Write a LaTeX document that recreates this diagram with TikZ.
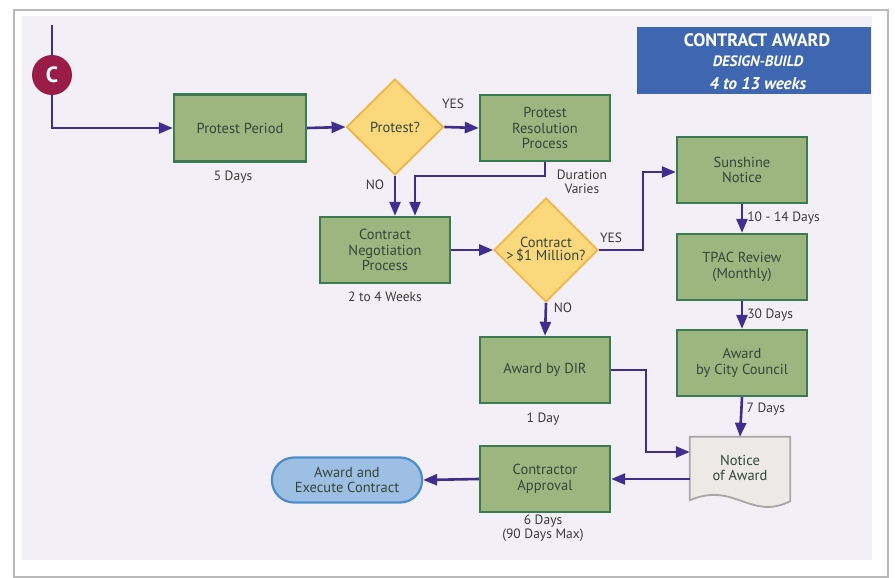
\documentclass[tikz,border=0pt]{standalone}
\usepackage{fontspec}
\setmainfont{PT Sans}
\usetikzlibrary{arrows.meta,shapes.geometric,calc}
\definecolor{boxfill}{HTML}{9DB57F}
\definecolor{boxborder}{HTML}{3C7A52}
\definecolor{boxtext}{HTML}{34463A}
\definecolor{diafill}{HTML}{FCD87C}
\definecolor{diaborder}{HTML}{F2B443}
\definecolor{connc}{HTML}{3F2E8E}
\definecolor{titlefill}{HTML}{3F67B1}
\definecolor{cfill}{HTML}{9A1D48}
\definecolor{pillfill}{HTML}{9DBFE3}
\definecolor{pillborder}{HTML}{4C8DC9}
\definecolor{docfill}{HTML}{ECE9E6}
\definecolor{docborder}{HTML}{A8A6A6}
\definecolor{bgpanel}{HTML}{F3EFF6}
\definecolor{labc}{HTML}{3A3A3A}
\tikzset{
  box/.style={draw=boxborder, fill=boxfill, line width=2.4pt, minimum width=130pt,
    minimum height=66pt, align=center, text=boxtext, font=\fontsize{14.5}{15.5}\selectfont, inner sep=2pt},
  dia/.style={diamond, aspect=1, draw=diaborder, fill=diafill, line width=1.8pt,
    minimum width=97pt, minimum height=96pt, align=center, text=boxtext,
    font=\fontsize{14.5}{14}\selectfont, inner sep=0pt},
  conn/.style={draw=connc, line width=2.6pt, -{Triangle[length=14pt,width=11pt]}},
  connline/.style={draw=connc, line width=2.6pt},
  lab/.style={text=labc, font=\fontsize{13.5}{14}\selectfont, align=center, inner sep=1pt},
}
\begin{document}
\begin{tikzpicture}[x=1pt,y=-1pt]
\useasboundingbox (0,0) rectangle (895,578);
\fill[white] (0,0) rectangle (895,578);
\draw[draw=gray!55, fill=white, line width=2pt] (14,10) rectangle (888,577);
\fill[bgpanel] (22,16) rectangle (872,560);

% title
\node[fill=titlefill, minimum width=234pt, minimum height=67pt, inner sep=0pt] (title) at (754,61) {};
\node[text=white, font=\bfseries\fontsize{18}{18}\selectfont, inner sep=0pt] (t1) at (757,40) {CONTRACT AWARD};
\node[text=white, font=\bfseries\itshape\fontsize{15}{15}\selectfont, inner sep=0pt] (t2) at (758,61) {DESIGN-BUILD};
\node[text=white, font=\bfseries\itshape\fontsize{17}{17}\selectfont, inner sep=0pt] (t3) at (758,84) {4 to 13 weeks};

% C connector
\coordinate (ctop) at (52,25);
\node[circle, fill=cfill, minimum size=40pt, inner sep=0pt, text=white, font=\bfseries\fontsize{22}{22}\selectfont] (cC) at (52,75) {C};

% nodes
\node[box, minimum width=132pt, minimum height=67pt] (pp) at (240,128) {Protest Period};
\node[dia] (prot) at (395,127) {Protest?};
\node[box] (prp) at (545,128) {Protest\\Resolution\\Process};
\node[box] (cnp) at (385,250) {Contract\\Negotiation\\Process};
\node[dia, minimum width=99pt] (cm) at (546,250) {Contract\\[-1pt]>\,\$1 Million?};
\node[box] (sun) at (742,170) {Sunshine\\Notice};
\node[box] (tpac) at (742,267) {TPAC Review\\(Monthly)};
\node[box] (acc) at (742,363) {Award\\by City Council};
\node[box] (dir) at (545,370) {Award by DIR};
\node[box] (ca) at (545,479) {Contractor\\Approval};
\node[draw=pillborder, fill=pillfill, line width=2.2pt, rounded corners=22pt, minimum width=150pt,
  minimum height=45pt, align=center, text=boxtext, font=\fontsize{14.5}{15.5}\selectfont] (aec) at (347,480) {Award and\\Execute Contract};

% notice of award (document shape)
\node[minimum width=100pt, minimum height=66pt, inner sep=0pt] (notice) at (740,470) {};
\draw[draw=docborder, fill=docfill, line width=1.8pt]
  (notice.north west) -- (notice.north east) -- ($(notice.south east)+(0,-2)$)
  .. controls ($(notice.south east)+(-40,18)$) and ($(notice.south west)+(45,-22)$) .. ($(notice.south west)+(0,-3)$)
  -- cycle;
\node[text=boxtext, align=center, font=\fontsize{14.5}{15.5}\selectfont, inner sep=0pt] (noticetxt) at (740,468) {Notice\\of Award};

% labels
\node[lab] (l1) at (233,177) {5 Days};
\node[lab] (l2) at (582,182) {Duration\\Varies};
\node[lab] (l3) at (385,297) {2 to 4 Weeks};
\node[lab] (l4) at (543,419) {1 Day};
\node[lab, font=\fontsize{13.5}{12}\selectfont] (l5) at (543,528) {6 Days\\(90 Days Max)};
\node[lab] (yes1) at (453,104) {YES};
\node[lab] (no1) at (375,185) {NO};
\node[lab] (yes2) at (611,238) {YES};
\node[lab] (no2) at (563,308) {NO};

% connectors
\draw[connline] (ctop) -- (cC.north);
\draw[conn] (cC.south) |- (pp.west);
\draw[conn] (pp.east) -- (prot.west);
\draw[conn] (prot.east) -- (prp.west);
\draw[conn] (prot.south) -- (prot.south |- cnp.north);
\coordinate (j1) at (415,176);
\draw[conn] (prp.south) |- (j1) -- (j1 |- cnp.north);
\draw[conn] (cnp.east) -- (cm.west);
\coordinate (j2) at (643,172);
\draw[conn] (cm.east) -| (j2) -- (j2 -| sun.west);
\draw[conn] (cm.south) -- (dir.north);
\draw[conn] (sun.south) -- (tpac.north) node[lab, midway, right=3pt] (l6) {10 - 14 Days};
\draw[conn] (tpac.south) -- (acc.north) node[lab, midway, right=3pt] (l7) {30 Days};
\draw[conn] (acc.south) -- (notice.north) node[lab, pos=0.3, right=3pt] (l8) {7 Days};
\coordinate (j3) at (646,452);
\draw[conn] (dir.east) -| (j3) -- (j3 -| notice.west);
\draw[conn] (notice.west |- ca.east) -- (ca.east);
\draw[conn] (ca.west) -- (aec.east);
\end{tikzpicture}
\end{document}
